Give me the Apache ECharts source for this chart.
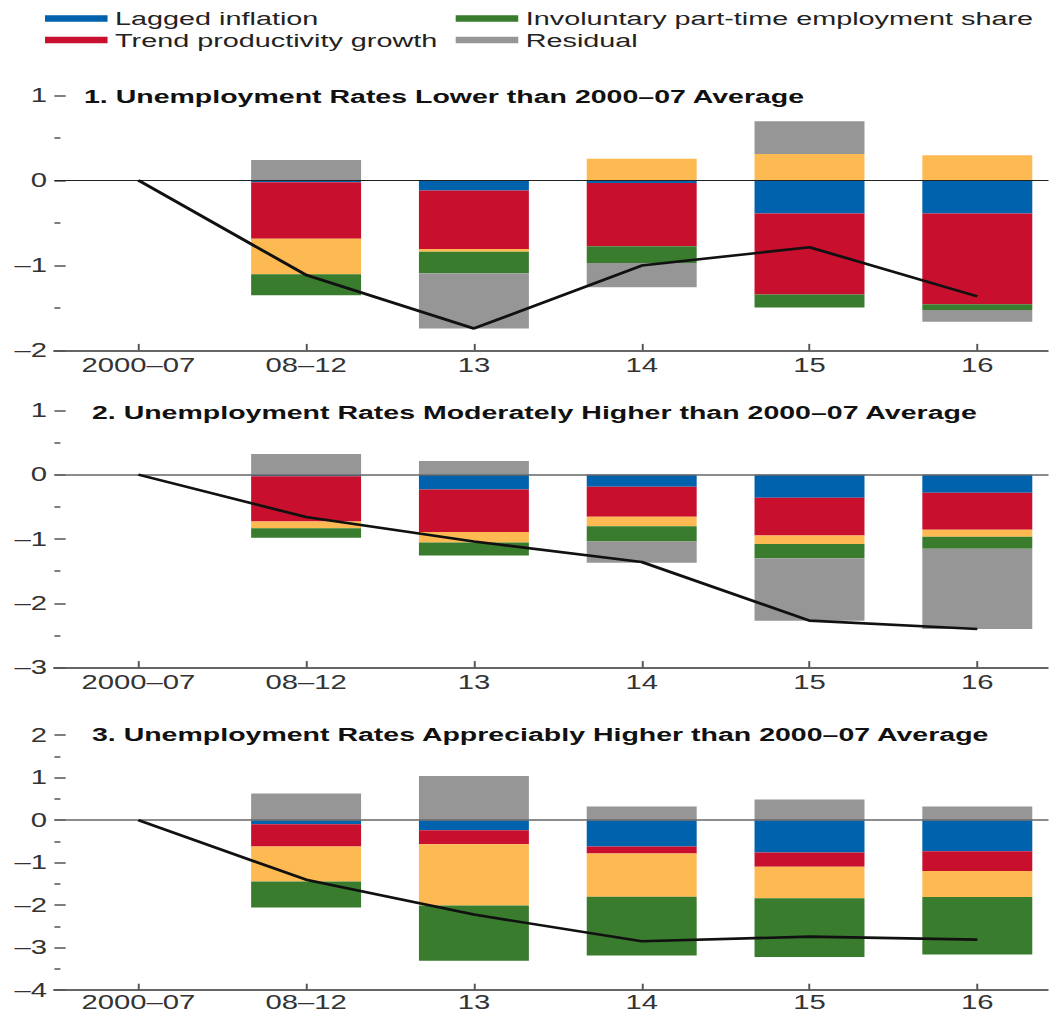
<!DOCTYPE html>
<html>
<head>
<meta charset="utf-8">
<script src="https://cdn.jsdelivr.net/npm/echarts@6/dist/echarts.min.js"></script>
<style>
html,body{margin:0;padding:0;background:#fff;overflow:hidden;}
#chart{width:699.333px;height:1012px;transform:scaleX(1.5);transform-origin:0 0;}
</style>
</head>
<body>
<div id="chart"></div>
<script>
// ---- data ----
const categories = ['2000–07', '08–12', '13', '14', '15', '16'];

const titles = [
  '1. Unemployment Rates Lower than 2000–07 Average',
  '2. Unemployment Rates Moderately Higher than 2000–07 Average',
  '3. Unemployment Rates Appreciably Higher than 2000–07 Average'
];

const seriesNames = ['Lagged inflation', 'Trend productivity growth', 'Unemployment gap',
  'Involuntary part-time employment share', 'Residual', 'Core inflation'];

// Panel 1
const p1Lagged = [null, -0.024, -0.119, -0.032, -0.39, -0.39];
const p1Trend  = [null, -0.664, -0.688, -0.744, -0.954, -1.066];
const p1Gap    = [null, -0.417, -0.032, 0.254, 0.31, 0.294];
const p1Invol  = [null, -0.247, -0.254, -0.195, -0.151, -0.068];
const p1Resid  = [null, 0.24, -0.648, -0.286, 0.386, -0.139];
const p1Total  = [0, -1.113, -1.742, -1.002, -0.787, -1.364];

// Panel 2
const p2Lagged = [null, -0.026, -0.232, -0.19, -0.359, -0.28];
const p2Trend  = [null, -0.703, -0.66, -0.465, -0.586, -0.576];
const p2Gap    = [null, -0.106, -0.164, -0.148, -0.132, -0.111];
const p2Invol  = [null, -0.148, -0.2, -0.238, -0.222, -0.185];
const p2Resid  = [null, 0.322, 0.211, -0.328, -0.972, -1.247];
const p2Total  = [0, -0.66, -1.04, -1.358, -2.27, -2.40];

// Panel 3
const p3Lagged = [null, -0.095, -0.238, -0.618, -0.76, -0.729];
const p3Trend  = [null, -0.523, -0.325, -0.166, -0.333, -0.467];
const p3Gap    = [null, -0.824, -1.442, -1.02, -0.745, -0.61];
const p3Invol  = [null, -0.61, -1.30, -1.378, -1.378, -1.354];
const p3Resid  = [null, 0.626, 1.038, 0.325, 0.49, 0.325];
const p3Total  = [0, -1.40, -2.22, -2.85, -2.74, -2.81];

const yMins = [-2, -3, -4];
const yMaxs = [1, 1, 2];

// ---- styling ----
const FONT = '"Liberation Sans", Arial, Helvetica, sans-serif';
const colors = {
  lagged: '#0061AD',
  trend: '#C8102E',
  gap: '#FDBA52',
  invol: '#3A7C2E',
  resid: '#969696',
  total: '#111111'
};

const panelData = [
  [p1Lagged, p1Trend, p1Gap, p1Invol, p1Resid, p1Total],
  [p2Lagged, p2Trend, p2Gap, p2Invol, p2Resid, p2Total],
  [p3Lagged, p3Trend, p3Gap, p3Invol, p3Resid, p3Total]
];
const barColors = [colors.lagged, colors.trend, colors.gap, colors.invol, colors.resid];

const gridLayout = [
  {top: 95.3, height: 255.1},
  {top: 410.3, height: 257.3},
  {top: 735.2, height: 255.0}
];
const titleLayout = [
  {left: 56, top: 86.5},
  {left: 61.3, top: 402.5},
  {left: 61.3, top: 725}
];
const xLabelLayout = [
  {margin: 5, lineHeight: 19.5},
  {margin: 5, lineHeight: 19.5},
  {margin: 2.5, lineHeight: 19.5}
];
const zeroLine = [
  {color: '#222', width: 1.2},
  {color: '#666', width: 1.6},
  {color: '#666', width: 1.6}
];

const grid = [], xAxis = [], yAxis = [], series = [], title = [];
function negFmt(v) { return v < 0 ? '\u2013' + Math.abs(v) : String(v); }

for (let i = 0; i < 3; i++) {
  grid.push({left: 36.27, width: 671.2, top: gridLayout[i].top, height: gridLayout[i].height,
    containLabel: false, outerBoundsMode: 'none'});
  title.push({
    text: titles[i], left: titleLayout[i].left, top: titleLayout[i].top, padding: 0,
    textStyle: {fontFamily: FONT, fontSize: 19, fontWeight: 'bold', color: '#111', lineHeight: 19}
  });
  xAxis.push({
    type: 'category', gridIndex: i, data: categories, boundaryGap: true,
    axisLine: {show: true, onZero: false, lineStyle: {color: '#666', width: 2}},
    axisTick: {show: true, alignWithLabel: true, inside: true, length: 6.5, lineStyle: {color: '#555', width: 1.3}},
    axisLabel: {fontFamily: FONT, fontSize: 19.5, color: '#333',
      margin: xLabelLayout[i].margin, lineHeight: xLabelLayout[i].lineHeight},
    splitLine: {show: false}
  });
  yAxis.push({
    type: 'value', gridIndex: i, min: yMins[i], max: yMaxs[i], interval: 1,
    axisLine: {show: false},
    axisTick: {show: true, inside: true, length: 7.5, lineStyle: {color: '#555', width: 1.5}},
    minorTick: {show: true, splitNumber: 2, length: 4, lineStyle: {color: '#555', width: 1.5}},
    axisLabel: {fontFamily: FONT, fontSize: 19.5, color: '#333', margin: 5, formatter: negFmt},
    splitLine: {show: false}, minorSplitLine: {show: false}
  });
  const d = panelData[i];
  for (let k = 0; k < 5; k++) {
    series.push({
      name: seriesNames[k], type: 'bar', xAxisIndex: i, yAxisIndex: i,
      stack: 'panel' + i, barWidth: 73.3, data: d[k],
      itemStyle: {color: barColors[k]}, z: 2
    });
  }
  series.push({
    name: seriesNames[5], type: 'line', xAxisIndex: i, yAxisIndex: i, data: d[5],
    showSymbol: false, symbol: 'none', lineStyle: {color: colors.total, width: 2.6}, z: 5,
    markLine: {
      silent: true, symbol: 'none', label: {show: false},
      lineStyle: {color: zeroLine[i].color, width: zeroLine[i].width, type: 'solid'},
      data: [{yAxis: 0}]
    }
  });
}

const legendCommon = {
  orient: 'vertical', padding: 0, itemWidth: 41.7, itemHeight: 6.5, itemGap: 2.4,
  icon: 'rect', selectedMode: false,
  textStyle: {fontFamily: FONT, fontSize: 19.2, color: '#222', lineHeight: 19}
};
const legend = [
  Object.assign({}, legendCommon, {left: 30, top: 9.1, data: ['Lagged inflation', 'Trend productivity growth']}),
  Object.assign({}, legendCommon, {left: 303.8, top: 9.1, data: ['Involuntary part-time employment share', 'Residual']})
];

const chart = echarts.init(document.getElementById('chart'), null, {renderer: 'svg'});
chart.setOption({
  animation: false,
  backgroundColor: '#fff',
  color: barColors.concat([colors.total]),
  title, legend, grid, xAxis, yAxis, series
});
</script>
</body>
</html>
